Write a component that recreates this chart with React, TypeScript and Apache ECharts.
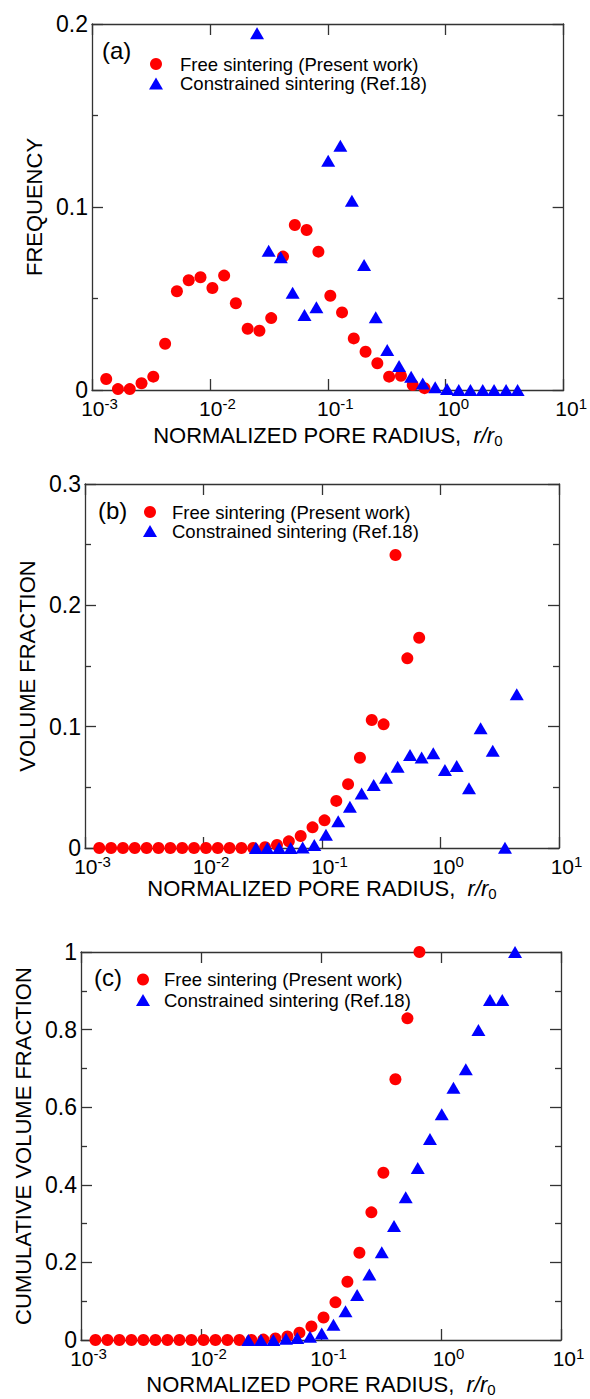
import React, { useEffect, useRef } from "react";
import * as echarts from "echarts";

// ---------- data ----------
// pore radius bins (r/r0) of the free-sintering data (shared by panels a, b, c)
const freeRadius = [
  0.00132, 0.00166, 0.00209, 0.00263, 0.00331, 0.00417, 0.00525, 0.00661, 0.00832, 0.0105,
  0.0132, 0.0166, 0.0209, 0.0263, 0.0331, 0.0417, 0.0525, 0.0661, 0.0832, 0.105,
  0.132, 0.166, 0.209, 0.263, 0.331, 0.417, 0.525, 0.661,
];
const freeFrequency = [
  0.006, 0.0005, 0.0005, 0.0037, 0.0073, 0.0253, 0.054, 0.06, 0.0616, 0.0557,
  0.0625, 0.0474, 0.0335, 0.0324, 0.0393, 0.0729, 0.0902, 0.0874, 0.0756, 0.0515,
  0.0424, 0.0282, 0.0209, 0.0146, 0.0073, 0.0078, 0.0027, 0.001,
];
const freeVolume = [
  0, 0, 0, 0, 0, 0, 0, 0, 0, 0,
  0, 0, 0, 0, 0.0006, 0.0025, 0.0055, 0.0099, 0.017, 0.0228,
  0.0388, 0.0526, 0.0744, 0.1055, 0.1019, 0.2415, 0.1563, 0.1733,
];
const freeCumulative = [
  0, 0, 0, 0, 0, 0, 0, 0, 0, 0,
  0, 0, 0, 0, 0.001, 0.004, 0.009, 0.019, 0.035, 0.058,
  0.097, 0.15, 0.225, 0.329, 0.431, 0.672, 0.829, 1.0,
];

const constrainedRadiusA = [
  0.0251, 0.0315, 0.0399, 0.0503, 0.0634, 0.08, 0.1007, 0.1277, 0.16, 0.203,
  0.255, 0.319, 0.402, 0.509, 0.638, 0.814, 1.026, 1.29, 1.62, 2.06, 2.57, 3.25, 4.07,
];
const constrainedFrequency = [
  0.195, 0.0761, 0.0725, 0.0532, 0.041, 0.0452, 0.1253, 0.1335, 0.1034, 0.0683,
  0.0397, 0.0219, 0.0131, 0.0073, 0.0036, 0.0015, 0.0005, 0, 0, 0, 0, 0, 0,
];
const constrainedRadiusB = [
  0.0277, 0.0345, 0.0434, 0.0544, 0.0687, 0.0861, 0.108, 0.137, 0.172, 0.216,
  0.273, 0.347, 0.435, 0.553, 0.693, 0.869, 1.09, 1.37, 1.74, 2.18, 2.76, 3.5, 4.4,
];
const constrainedVolume = [
  0, 0, 0, 0, 0.0005, 0.0025, 0.011, 0.022, 0.034, 0.045,
  0.052, 0.058, 0.067, 0.0767, 0.0745, 0.0781, 0.0643, 0.0676, 0.0492, 0.0987, 0.0802, 0.0003, 0.1267,
];
const constrainedRadiusC = [
  0.0248, 0.0316, 0.0401, 0.0511, 0.0634, 0.0809, 0.1014, 0.127, 0.16, 0.2,
  0.253, 0.321, 0.406, 0.508, 0.64, 0.809, 1.014, 1.27, 1.61, 2.05, 2.56, 3.24, 4.14,
];
const constrainedCumulative = [
  0, 0, 0, 0.003, 0.005, 0.0085, 0.017, 0.039, 0.074, 0.116,
  0.169, 0.226, 0.294, 0.368, 0.443, 0.518, 0.582, 0.65, 0.698, 0.799, 0.876, 0.876, 1.0,
];

const seriesNames = ["Free sintering (Present work)", "Constrained sintering (Ref.18)"];
const panelLabels = ["(a)", "(b)", "(c)"];
const yTitles = ["FREQUENCY", "VOLUME FRACTION", "CUMULATIVE VOLUME FRACTION"];
const yMax = [0.2, 0.3, 1];
const yInterval = [0.1, 0.1, 0.2];
const xMin = 0.001;
const xMax = 10;

// ---------- styling ----------
const FONT = '"Liberation Sans", Arial, Helvetica, sans-serif';
const FRAME = "#333";
const RED = "#ff0000";
const BLUE = "#0000ff";

const grids = [
  { left: 92, top: 24, width: 477, height: 366 },
  { left: 85, top: 484, width: 474, height: 364 },
  { left: 81, top: 952, width: 480, height: 388 },
];
const yNameGap = [41, 43, 47];
const xNameGap = [32, 26, 31];

const pair = (xs: number[], ys: number[]) => xs.map((x, i) => [x, ys[i]]);

function buildOption() {
  const xAxis: any[] = [];
  const yAxis: any[] = [];
  const lineStyle = { color: FRAME, width: 1.3 };
  grids.forEach((_, g) => {
    const xBase = {
      type: "log",
      logBase: 10,
      gridIndex: g,
      min: xMin,
      max: xMax,
      axisLine: { show: true, onZero: false, lineStyle },
      axisTick: { show: true, inside: true, length: 11, lineStyle },
      minorTick: { show: false },
      splitLine: { show: false },
      minorSplitLine: { show: false },
    };
    xAxis.push({
      ...xBase,
      position: "bottom",
      axisLabel: {
        margin: 6,
        padding: [0, 0, 0, 15],
        formatter: (v: number) => {
          const e = Math.round(Math.log10(v));
          return `{b|10}{s|${e}}`;
        },
        rich: {
          b: { fontSize: 21, fontFamily: FONT, color: "#000", lineHeight: 24 },
          s: { fontSize: 15, fontFamily: FONT, color: "#000", lineHeight: 13, verticalAlign: "top" },
        },
      },
      name: "{n|NORMALIZED PORE RADIUS,  }{i|r/r}{sub|0}",
      nameLocation: "middle",
      nameGap: xNameGap[g],
      nameTextStyle: {
        rich: {
          n: { fontSize: 22, fontFamily: FONT, color: "#000", lineHeight: 26 },
          i: { fontSize: 22, fontFamily: FONT, color: "#000", fontStyle: "italic", lineHeight: 26 },
          sub: { fontSize: 15, fontFamily: FONT, color: "#000", lineHeight: 10, verticalAlign: "bottom" },
        },
      },
    });
    xAxis.push({ ...xBase, position: "top", axisLabel: { show: false } });

    const yBase = {
      type: "value",
      gridIndex: g,
      min: 0,
      max: yMax[g],
      interval: yInterval[g],
      axisLine: { show: true, onZero: false, lineStyle },
      axisTick: { show: true, inside: true, length: 11, lineStyle },
      minorTick: { show: true, splitNumber: 2, length: 6, lineStyle },
      splitLine: { show: false },
      minorSplitLine: { show: false },
    };
    yAxis.push({
      ...yBase,
      position: "left",
      axisLabel: { fontSize: 23, fontFamily: FONT, color: "#000", margin: 4 },
      name: yTitles[g],
      nameLocation: "middle",
      nameRotate: 90,
      nameGap: yNameGap[g],
      nameTextStyle: { fontSize: 22, fontFamily: FONT, color: "#000" },
    });
    yAxis.push({ ...yBase, position: "right", axisLabel: { show: false } });
  });

  const redData = [freeFrequency, freeVolume, freeCumulative];
  const blueX = [constrainedRadiusA, constrainedRadiusB, constrainedRadiusC];
  const blueY = [constrainedFrequency, constrainedVolume, constrainedCumulative];
  const series: any[] = [];
  grids.forEach((_, g) => {
    series.push({
      type: "scatter",
      name: seriesNames[0],
      xAxisIndex: g * 2,
      yAxisIndex: g * 2,
      symbol: "circle",
      symbolSize: 12,
      itemStyle: { color: RED, opacity: 1 },
      clip: false,
      silent: true,
      data: pair(freeRadius, redData[g]),
    });
    series.push({
      type: "scatter",
      name: seriesNames[1],
      xAxisIndex: g * 2,
      yAxisIndex: g * 2,
      symbol: "triangle",
      symbolSize: [14, 12],
      itemStyle: { color: BLUE, opacity: 1 },
      clip: false,
      silent: true,
      data: pair(blueX[g], blueY[g]),
    });
  });

  // legends and panel labels
  const legendPos = [
    { label: [102, 50], icon: 156, y1: 64, y2: 83.5, text: 180 },
    { label: [98, 510], icon: 150, y1: 512, y2: 531, text: 172 },
    { label: [94, 977], icon: 143, y1: 979.5, y2: 1000, text: 164 },
  ];
  const graphic: any[] = [];
  legendPos.forEach((p, g) => {
    graphic.push({
      type: "text",
      x: p.label[0],
      y: p.label[1],
      style: { text: panelLabels[g], font: `24px ${FONT}`, fill: "#000", verticalAlign: "middle" },
    });
    graphic.push({ type: "circle", shape: { cx: p.icon, cy: p.y1, r: 6 }, style: { fill: RED } });
    graphic.push({
      type: "polygon",
      shape: { points: [[p.icon - 7, p.y2 + 6], [p.icon + 7, p.y2 + 6], [p.icon, p.y2 - 6]] },
      style: { fill: BLUE },
    });
    graphic.push({
      type: "text",
      x: p.text,
      y: p.y1,
      style: { text: seriesNames[0], font: `18.5px ${FONT}`, fill: "#000", verticalAlign: "middle" },
    });
    graphic.push({
      type: "text",
      x: p.text,
      y: p.y2,
      style: { text: seriesNames[1], font: `18.5px ${FONT}`, fill: "#000", verticalAlign: "middle" },
    });
  });

  return {
    animation: false,
    backgroundColor: "#fff",
    grid: grids.map((g) => ({ ...g, containLabel: false })),
    xAxis,
    yAxis,
    series,
    graphic,
  };
}

export default function App() {
  const ref = useRef<HTMLDivElement>(null);
  useEffect(() => {
    if (!ref.current) return;
    const chart = echarts.init(ref.current, undefined, { renderer: "svg" });
    chart.setOption(buildOption() as any);
    return () => chart.dispose();
  }, []);
  return (
    <div
      ref={ref}
      style={{ position: "absolute", left: 0, top: 0, width: 590, height: 1399, background: "#fff" }}
    />
  );
}
